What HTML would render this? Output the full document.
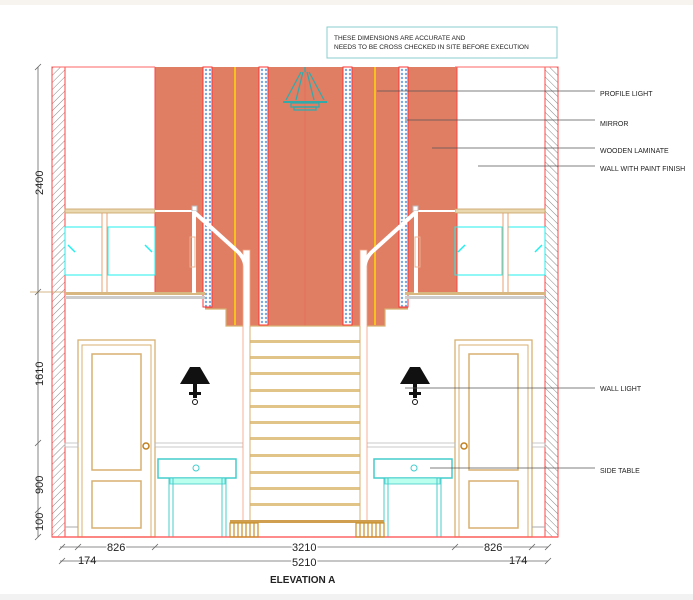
<!DOCTYPE html>
<html><head><meta charset="utf-8"><style>
html,body{margin:0;padding:0;background:#fff;}
svg{display:block;}
text{font-family:"Liberation Sans",sans-serif;fill:#222;}
</style></head><body>
<svg width="693" height="600" viewBox="0 0 693 600" xmlns="http://www.w3.org/2000/svg">
<defs>
<pattern id="hatch" width="5" height="5" patternUnits="userSpaceOnUse" patternTransform="rotate(45)">
<rect width="5" height="5" fill="#fff"/><line x1="0" y1="0" x2="0" y2="5" stroke="#888" stroke-width="1"/></pattern>
<pattern id="dots" width="4" height="4" patternUnits="userSpaceOnUse">
<rect width="4" height="4" fill="#fff"/><circle cx="2" cy="2" r="1.2" fill="#7aa8e0"/></pattern>
<g id="half">
 <!-- hatch wall -->
 <rect x="52" y="67" width="13" height="470" fill="url(#hatch)" stroke="#f44" stroke-width="1"/>
 <!-- balcony railing -->
 <rect x="65" y="209" width="90" height="4" fill="#e9d8b0" stroke="#c9a060" stroke-width="0.8"/>
 <rect x="65" y="227" width="37" height="48" fill="none" stroke="#2ee" stroke-width="1"/>
 <rect x="108" y="227" width="47" height="48" fill="none" stroke="#2ee" stroke-width="1"/>
 <line x1="102" y1="213" x2="102" y2="293" stroke="#e8a070"/><line x1="107" y1="213" x2="107" y2="293" stroke="#e8a070"/>
 <line x1="68" y1="245" x2="75" y2="252" stroke="#2ee" stroke-width="1.5"/>
 <line x1="145" y1="245" x2="152" y2="252" stroke="#2ee" stroke-width="1.5"/>
 <line x1="155" y1="211" x2="192" y2="211" stroke="#fff" stroke-width="2"/>
 <!-- slab -->
 <rect x="65" y="292" width="140" height="3" fill="#d8b880"/>
 <rect x="65" y="296" width="140" height="3" fill="#ccc"/>
 <!-- door -->
 <rect x="78" y="340" width="77" height="197" fill="#fff" stroke="#d8b070" stroke-width="1.3"/>
 <rect x="82" y="345" width="69" height="192" fill="none" stroke="#d8b070" stroke-width="1"/>
 <rect x="92" y="354" width="49" height="116" fill="none" stroke="#d8b070" stroke-width="1.5"/>
 <rect x="92" y="481" width="49" height="47" fill="none" stroke="#d8b070" stroke-width="1.5"/>
 <circle cx="146" cy="446" r="3" fill="none" stroke="#c08020" stroke-width="1.5"/>
 <!-- dado -->
 <rect x="65" y="443" width="13" height="4" fill="none" stroke="#bbb" stroke-width="0.8"/>
 <rect x="155" y="443" width="88" height="4" fill="none" stroke="#bbb" stroke-width="0.8"/>
 <line x1="65" y1="527" x2="78" y2="527" stroke="#aaa"/>
 <!-- side table -->
 <rect x="158" y="459" width="78" height="19" fill="#fff" stroke="#4cc" stroke-width="1.5"/>
 <circle cx="196" cy="468" r="3" fill="none" stroke="#4cc"/>
 <rect x="170" y="478" width="55" height="6" fill="#bfe" stroke="#4cc" stroke-width="0.8"/>
 <rect x="169" y="478" width="4" height="59" fill="none" stroke="#4cc"/>
 <rect x="222" y="478" width="4" height="59" fill="none" stroke="#4cc"/>
 <!-- wall light -->
 <polygon points="190,367 200,367 210,384 180,384" fill="#111"/>
 <rect x="193" y="384" width="4" height="14" fill="#111"/><rect x="189" y="392" width="12" height="3" fill="#111"/>
 <circle cx="195" cy="402" r="2.5" fill="#fff" stroke="#111"/>
 <!-- floor -->
 <line x1="52" y1="537" x2="305" y2="537" stroke="#f66" stroke-width="1.5"/>
 <!-- stair stringer/handrail -->
 <rect x="243" y="250" width="7" height="272" fill="#fff" stroke="#f4a080" stroke-width="0.8"/>
 <path d="M194,212 L236,250 Q246,258 246,272 L246,300" fill="none" stroke="#fff" stroke-width="4"/>
 <rect x="192" y="206" width="5" height="5" fill="#fff" stroke="#bbb"/>
 <rect x="192" y="211" width="4" height="82" fill="#fff"/>
 <rect x="190" y="237" width="5" height="30" fill="none" stroke="#e8b090"/>
 <line x1="52" y1="67" x2="155" y2="67" stroke="#f66"/>
</g>
</defs>
<rect x="0" y="0" width="693" height="5" fill="#f7f3ee"/>
<rect x="0" y="594" width="693" height="6" fill="#f2f2f2"/>
<!-- orange wall -->
<path d="M155,67 H457 V293 H408 V309 H385 V326 H226 V309 H205 V293 H155 Z" fill="#e07e64"/>
<line x1="155" y1="67" x2="155" y2="293" stroke="#f44"/>
<line x1="457" y1="67" x2="457" y2="293" stroke="#f44"/>
<line x1="305" y1="67" x2="305" y2="326" stroke="#e86c56" stroke-width="0.8"/>
<path d="M205,309 H226 V326 H385 V309 H408" fill="none" stroke="#d8b070" stroke-width="1.2"/>
<!-- mirrors -->
<g stroke="#f33" stroke-width="1">
<rect x="203" y="67" width="9" height="240" fill="url(#dots)"/>
<rect x="259" y="67" width="9" height="258" fill="url(#dots)"/>
<rect x="343" y="67" width="9" height="258" fill="url(#dots)"/>
<rect x="399" y="67" width="9" height="240" fill="url(#dots)"/>
</g>
<line x1="235" y1="67" x2="235" y2="325" stroke="#f5c020" stroke-width="2"/>
<line x1="375" y1="67" x2="375" y2="325" stroke="#f5c020" stroke-width="2"/>
<!-- chandelier -->
<g stroke="#3aa" stroke-width="1.3" fill="none">
<line x1="305" y1="67" x2="305" y2="72"/>
<path d="M301,72 L286,100 M309,72 L324,100 M303,72 L296,100 M307,72 L314,100"/>
<line x1="283" y1="102" x2="327" y2="102" stroke-width="2"/>
<rect x="291" y="103" width="28" height="4"/><rect x="294" y="107" width="22" height="3"/>
</g>
<use href="#half"/>
<use href="#half" transform="translate(610,0) scale(-1,1)"/>
<!-- stairs -->
<g fill="#e0c488">
<rect x="250" y="340" width="110" height="3"/><rect x="250" y="356" width="110" height="3"/>
<rect x="250" y="372" width="110" height="3"/><rect x="250" y="389" width="110" height="3"/>
<rect x="250" y="405" width="110" height="3"/><rect x="250" y="421" width="110" height="3"/>
<rect x="250" y="437" width="110" height="3"/><rect x="250" y="454" width="110" height="3"/>
<rect x="250" y="471" width="110" height="3"/><rect x="250" y="487" width="110" height="3"/>
<rect x="250" y="503" width="110" height="3"/>
</g>
<line x1="250" y1="326" x2="250" y2="520" stroke="#d8b070"/>
<line x1="360" y1="326" x2="360" y2="520" stroke="#d8b070"/>
<rect x="230" y="520" width="154" height="3" fill="#d0a050"/>
<g fill="none" stroke="#c8902a" stroke-width="1.2">
<rect x="230" y="523" width="28" height="14"/><rect x="356" y="523" width="28" height="14"/>
<path d="M234,523V537M238,523V537M242,523V537M246,523V537M250,523V537M254,523V537M360,523V537M364,523V537M368,523V537M372,523V537M376,523V537M380,523V537"/>
</g>
<!-- note box -->
<rect x="327" y="27" width="230" height="31" fill="#fff" stroke="#8cc" stroke-width="1"/>
<text x="334" y="40" font-size="6.5">THESE DIMENSIONS ARE ACCURATE AND</text>
<text x="334" y="49" font-size="6.5">NEEDS TO BE CROSS CHECKED IN SITE BEFORE EXECUTION</text>
<!-- leaders -->
<g stroke="#555" stroke-width="0.7">
<line x1="377" y1="91" x2="595" y2="91"/><line x1="405" y1="120" x2="595" y2="120"/>
<line x1="432" y1="148" x2="595" y2="148"/><line x1="478" y1="166" x2="595" y2="166"/>
<line x1="405" y1="388" x2="595" y2="388"/><line x1="430" y1="468" x2="595" y2="468"/>
</g>
<g font-size="7">
<text x="600" y="96">PROFILE LIGHT</text><text x="600" y="126">MIRROR</text>
<text x="600" y="153">WOODEN LAMINATE</text><text x="600" y="171">WALL WITH PAINT FINISH</text>
<text x="600" y="391">WALL LIGHT</text><text x="600" y="473">SIDE TABLE</text>
</g>
<!-- vertical dims -->
<g stroke="#666" stroke-width="0.8">
<line x1="38" y1="67" x2="38" y2="537"/>
<line x1="30" y1="292" x2="65" y2="292" stroke="#c9a060"/>
<path d="M35,70L41,64M35,295L41,289M35,446L41,440M35,513L41,507M35,540L41,534"/>
<line x1="60" y1="547" x2="548" y2="547"/><line x1="60" y1="561" x2="548" y2="561"/>
<path d="M59,550L65,544M75,550L81,544M152,550L158,544M452,550L458,544M529,550L535,544M545,550L551,544M59,564L65,558M545,564L551,558"/>
</g>
<g font-size="11">
<text transform="translate(43,195) rotate(-90)">2400</text>
<text transform="translate(43,386) rotate(-90)">1610</text>
<text transform="translate(43,494) rotate(-90)">900</text>
<text transform="translate(43,531) rotate(-90)">100</text>
<text x="107" y="551" fill="#222" style="paint-order:stroke" stroke="#fff" stroke-width="3">826</text>
<text x="292" y="551" style="paint-order:stroke" stroke="#fff" stroke-width="3">3210</text>
<text x="484" y="551" style="paint-order:stroke" stroke="#fff" stroke-width="3">826</text>
<text x="292" y="566" style="paint-order:stroke" stroke="#fff" stroke-width="3">5210</text>
<text x="78" y="564">174</text><text x="509" y="564">174</text>
</g>
<text x="270" y="583" font-size="10" font-weight="bold">ELEVATION A</text>
</svg>
</body></html>
